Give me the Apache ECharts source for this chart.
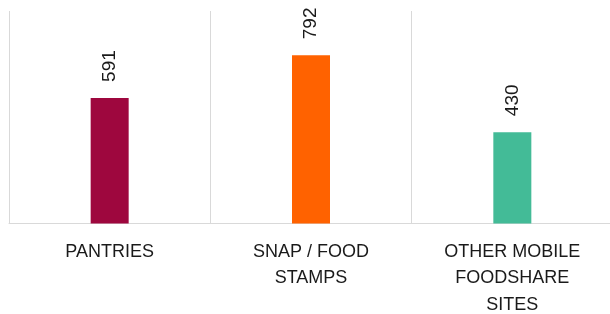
<!DOCTYPE html>
<html>
<head>
<meta charset="utf-8">
<style>html,body{margin:0;padding:0;background:#fff;}#c{width:610px;height:314px;}</style>
<script src="https://cdn.jsdelivr.net/npm/echarts@6/dist/echarts.min.js"></script>
</head>
<body>
<div id="c"></div>
<script>
const categories = ["PANTRIES", "SNAP / FOOD STAMPS", "OTHER MOBILE FOODSHARE SITES"];
const tickLabels = ["PANTRIES", "SNAP / FOOD\nSTAMPS", "OTHER MOBILE\nFOODSHARE\nSITES"];
const values = [591, 792, 430];
const barColors = ["#9e073e", "#ff6200", "#43bb97"];

const chart = echarts.init(document.getElementById('c'), null, {renderer: 'canvas'});
chart.setOption({
  animation: false,
  grid: {left: 9, right: -3, top: 11, bottom: 90.5, containLabel: false, outerBoundsMode: 'none'},
  xAxis: {
    type: 'category',
    data: categories,
    boundaryGap: true,
    axisLine: {lineStyle: {color: '#d9d9d9', width: 1}},
    axisTick: {show: false},
    splitLine: {show: true, lineStyle: {color: '#d9d9d9', width: 1}},
    axisLabel: {
      interval: 0,
      margin: 15,
      color: '#1a1a1a',
      fontFamily: 'Liberation Sans',
      fontSize: 18,
      lineHeight: 26.5,
      formatter: (v, i) => tickLabels[i]
    }
  },
  yAxis: {type: 'value', min: 0, max: 1000, show: false, splitLine: {show: false}},
  series: [{
    type: 'bar',
    barWidth: 38,
    data: values.map((v, i) => ({value: v, itemStyle: {color: barColors[i]}})),
    label: {
      show: true,
      position: 'top',
      rotate: 90,
      align: 'left',
      verticalAlign: 'middle',
      distance: 16,
      color: '#1a1a1a',
      fontFamily: 'Liberation Sans',
      fontSize: 19
    }
  }]
});
</script>
</body>
</html>
